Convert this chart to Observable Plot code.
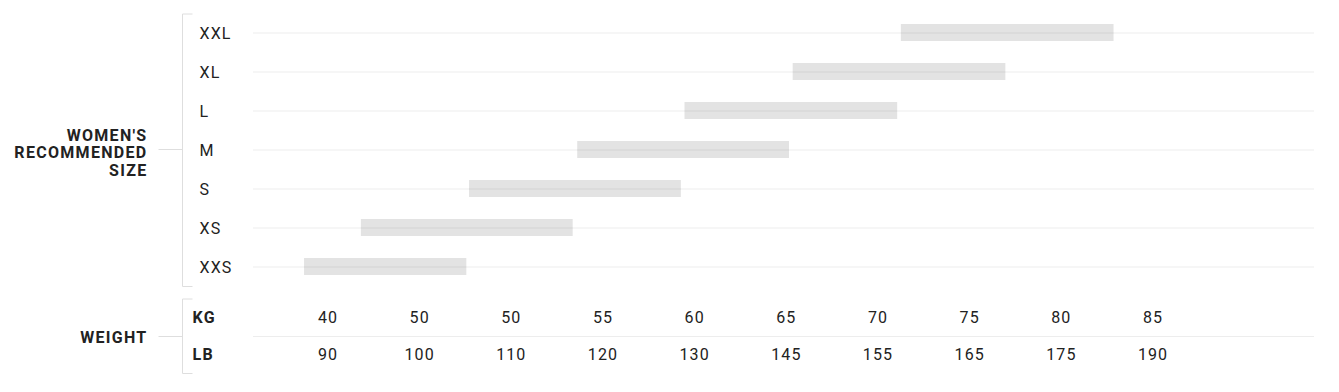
<!DOCTYPE html>
<html><head><meta charset="utf-8">
<script src="https://cdn.jsdelivr.net/npm/d3@7"></script>
<script src="https://cdn.jsdelivr.net/npm/@observablehq/plot@0.6"></script>
<style>
html,body{margin:0;padding:0;background:#fff;}
#chart svg{display:block;}
#chart svg text{letter-spacing:1.1px;}
#chart svg g[font-weight="bold"] text{letter-spacing:1.3px;}
</style></head><body><div id="chart"></div>
<script>
// Size rows (top to bottom) and their recommended weight ranges, in weight-column units
const sizes = ["XXL","XL","L","M","S","XS","XXS"];
const rangeStart = [6.26, 5.08, 3.90, 2.73, 1.55, 0.37, -0.25];
const rangeEnd   = [8.58, 7.40, 6.22, 5.04, 3.86, 2.68, 1.52];
// Weight table
const units = ["KG","LB"];
const kgLabels = ["40","50","50","55","60","65","70","75","80","85"];
const lbLabels = ["90","100","110","120","130","145","155","165","175","190"];
const groupSize = "WOMEN'S\nRECOMMENDED\nSIZE";
const groupWeight = "WEIGHT";

const sizeRows = sizes.map((s, i) => ({size: s, start: rangeStart[i], end: rangeEnd[i]}));
const weightRows = [];
kgLabels.forEach((t, i) => weightRows.push({col: i, unit: "KG", label: t}));
lbLabels.forEach((t, i) => weightRows.push({col: i, unit: "LB", label: t}));

const xDomain = [-0.807, 10.767];
const ink = "#222";
const styleObj = {fontFamily: "Roboto, sans-serif", fontSize: "16px", color: ink, background: "#fff"};

const bracket = (padTop, padBottom) => (index, scales, values, dims) => {
  const g = d3.create("svg:g").attr("stroke", "#dedede").attr("fill", "none").attr("stroke-width", 1);
  const x = dims.marginLeft - 70.5;
  const y0 = dims.marginTop + padTop, y1 = dims.height - dims.marginBottom + padBottom;
  const ym = Math.round((dims.marginTop + dims.height - dims.marginBottom) / 2) + 0.5;
  g.append("path").attr("d", `M${x + 10},${y0}H${x}V${y1}H${x + 10}M${x - 24},${ym}H${x}`);
  return g.node();
};

const topPlot = Plot.plot({
  width: 1339, height: 292,
  marginLeft: 253, marginRight: 25, marginTop: 12.5, marginBottom: 6.5,
  x: {domain: xDomain, axis: null},
  y: {type: "band", domain: sizes, axis: null, padding: 0},
  style: styleObj,
  marks: [
    Plot.barX(sizeRows, {x1: "start", x2: "end", y: "size", fill: "#e3e3e3", insetTop: 11, insetBottom: 11}),
    Plot.ruleY(sizes, {y: d => d, stroke: "#000", strokeOpacity: 0.07}),
    Plot.text(sizes, {y: d => d, text: d => d, frameAnchor: "left", dx: -54, dy: 0.5, textAnchor: "start", fill: ink, fontSize: 16}),
    Plot.text([groupSize], {text: d => d, frameAnchor: "left", dx: -106, dy: 3, textAnchor: "end", fill: ink, fontWeight: "bold", fontSize: 16, lineHeight: 1.1}),
    bracket(1.5, 1)
  ]
});

const bottomPlot = Plot.plot({
  width: 1339, height: 100,
  marginLeft: 253, marginRight: 25, marginTop: 7, marginBottom: 19,
  x: {domain: xDomain, axis: null},
  y: {type: "band", domain: units, axis: null, padding: 0},
  style: styleObj,
  marks: [
    Plot.ruleY(["KG"], {y: d => d, dy: 18.5, stroke: "#000", strokeOpacity: 0.07}),
    Plot.text(weightRows, {x: "col", y: "unit", text: "label", dx: 0.5, fill: ink, fontSize: 16}),
    Plot.text(units, {y: d => d, text: d => d, frameAnchor: "left", dx: -61, textAnchor: "start", fill: ink, fontWeight: "bold", fontSize: 16}),
    Plot.text([groupWeight], {text: d => d, frameAnchor: "left", dx: -106, dy: 1, textAnchor: "end", fill: ink, fontWeight: "bold", fontSize: 16}),
    bracket(0, 0.5)
  ]
});

const root = document.getElementById("chart");
root.append(topPlot, bottomPlot);
</script>
</body></html>
